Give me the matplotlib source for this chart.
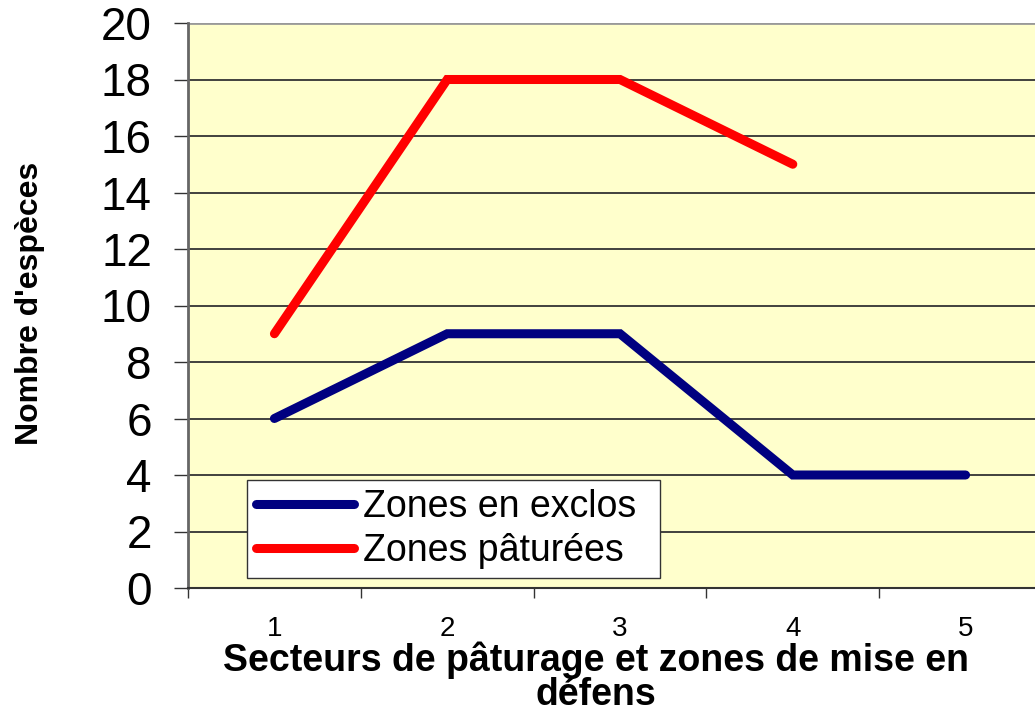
import matplotlib
matplotlib.use("Agg")
import matplotlib.pyplot as plt
import numpy as np

plt.rcParams['font.family'] = ['Liberation Sans', 'DejaVu Sans']

secteurs = [1, 2, 3, 4, 5]
exclos = [6, 9, 9, 4, 4]
paturees = [9, 18, 18, 15, np.nan]
yticks = list(range(0, 21, 2))

fig = plt.figure(figsize=(10.35, 7.14), dpi=100)
W, H = 1035, 714
ax = fig.add_axes([188 / W, 1 - 588 / H, (1052 - 188) / W, (588 - 23) / H])
ax.set_facecolor('#FFFFCC')

ax.plot(secteurs, exclos, color='#000080', lw=6.5, solid_capstyle='round',
        solid_joinstyle='miter', label='Zones en exclos', zorder=3)
ax.plot(secteurs, paturees, color='#FF0000', lw=6.5, solid_capstyle='round',
        solid_joinstyle='miter', label='Zones pâturées', zorder=3)

ax.set_xlim(0.5, 5.5)
ax.set_ylim(0, 20)
ax.set_yticks(yticks)
ax.set_yticklabels([str(v) for v in yticks], fontsize=33)
ax.yaxis.grid(True, color='#333333', lw=1.3)
ax.set_axisbelow(True)

ax.set_xticks(secteurs)
ax.set_xticklabels([str(s) for s in secteurs], fontsize=20)
ax.set_xticks(np.arange(0.5, 6, 1), minor=True)
ax.tick_params(axis='x', which='major', length=0, pad=20)
ax.tick_params(axis='x', which='minor', length=7, width=1, color='#333333')
ax.tick_params(axis='y', length=10, width=1, color='#333333', pad=16)

for s in ['top', 'right']:
    ax.spines[s].set_visible(False)
ax.spines['left'].set_color('#666666')
ax.spines['left'].set_linewidth(2)
ax.spines['bottom'].set_color('#333333')
ax.spines['bottom'].set_linewidth(1.5)
ax.axhline(20, color='#999999', lw=2, zorder=2)

leg = ax.legend(loc='lower left', bbox_to_anchor=((247 - 188) / 864, 10 / 565,
                (660 - 247) / 864, (578 - 477) / 565), mode='expand',
                fontsize=27, frameon=True, fancybox=False, handlelength=2.6,
                borderaxespad=0, borderpad=0.25, labelspacing=0.2,
                handletextpad=0.25)
leg.get_frame().set_edgecolor('#333333')
leg.get_frame().set_linewidth(1)
leg.get_frame().set_facecolor('white')
leg.get_frame().set_alpha(1)

fig.text(596 / W, 1 - 713 / H, "Secteurs de pâturage et zones de mise en\ndéfens",
         ha='center', va='bottom', fontsize=27, fontweight='bold',
         linespacing=0.92)
fig.text(30 / W, 1 - 303 / H, "Nombre d'espèces", rotation=90, ha='center',
         va='center', fontsize=23, fontweight='bold')

fig.savefig('out.png', dpi=100)
